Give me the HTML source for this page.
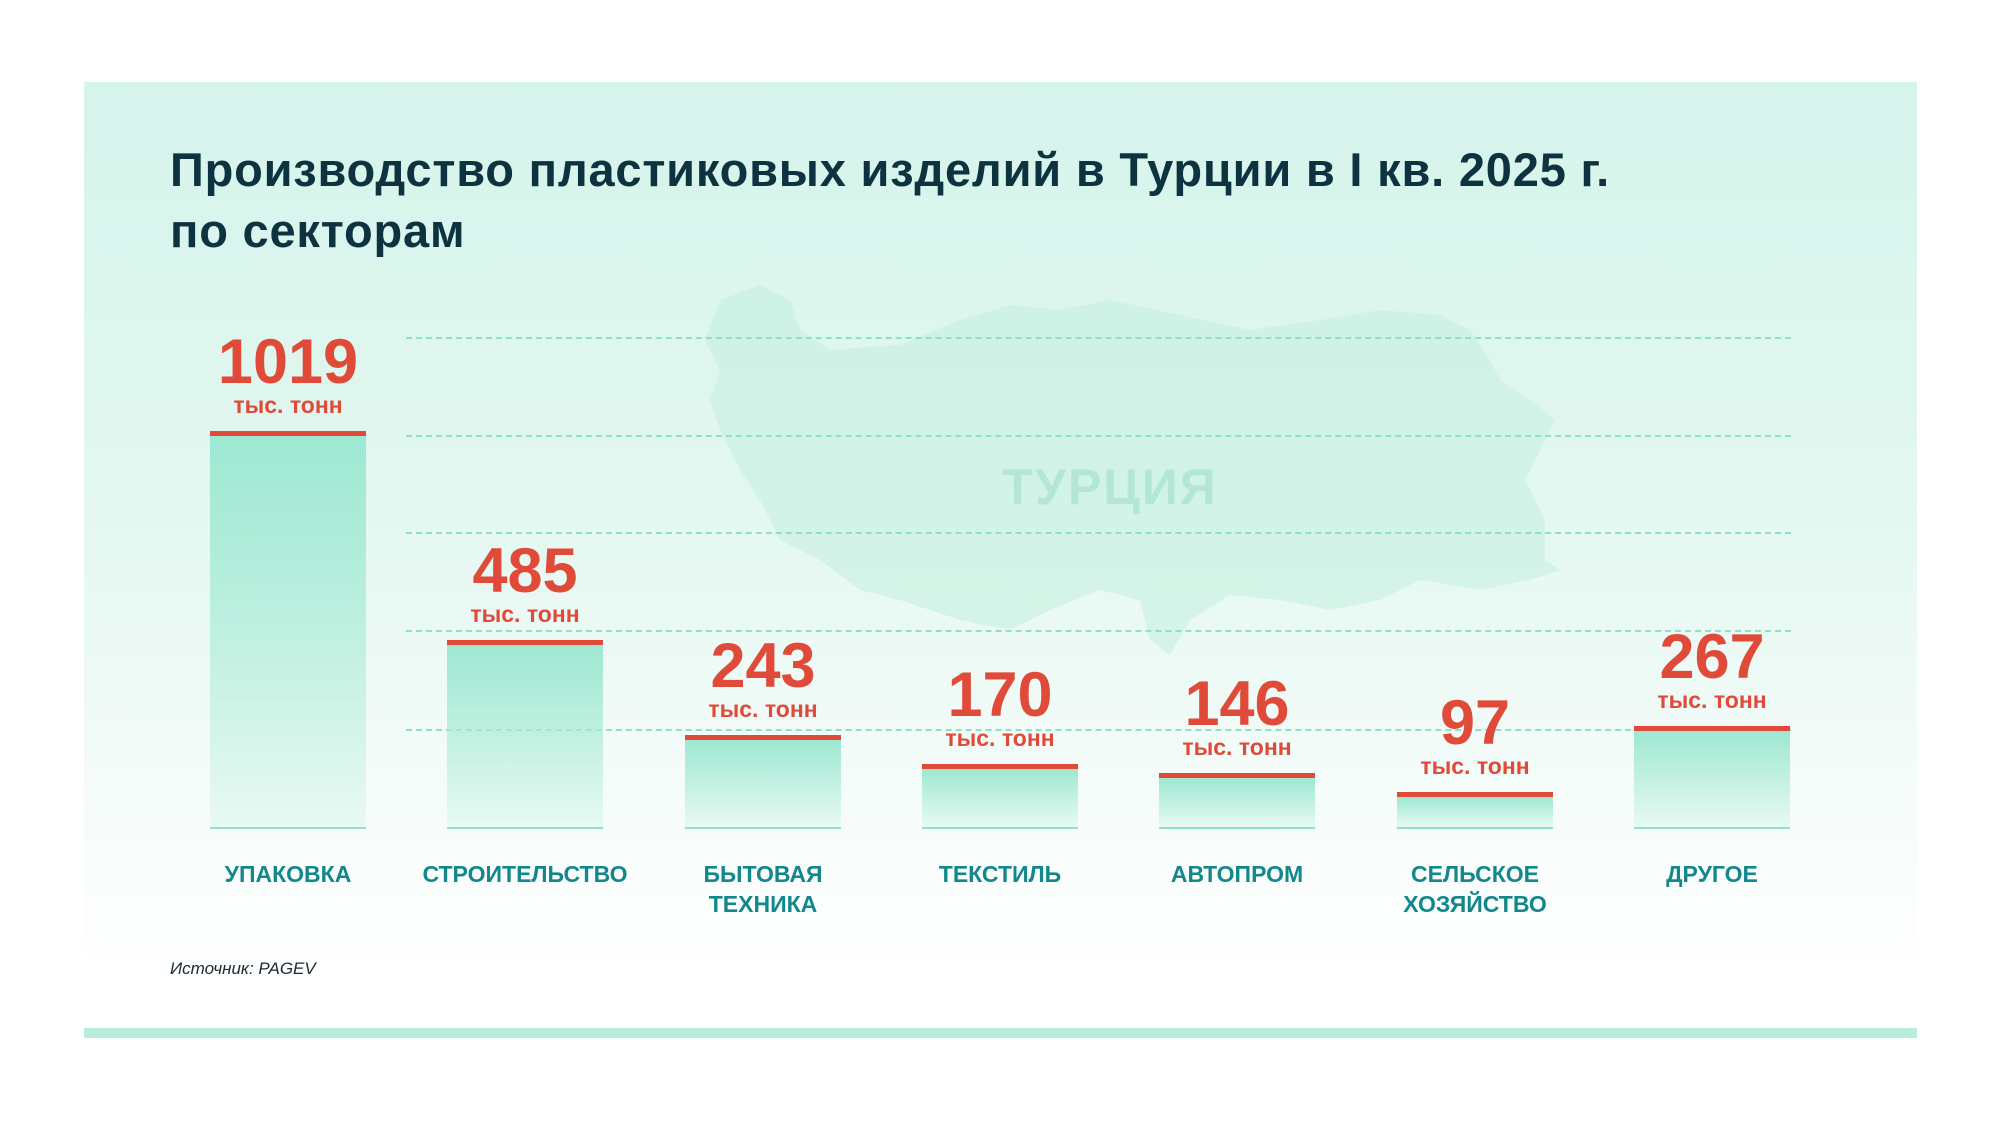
<!DOCTYPE html>
<html><head><meta charset="utf-8"><style>
*{margin:0;padding:0;box-sizing:border-box}
body{width:2000px;height:1125px;background:#fff;position:relative;overflow:hidden;font-family:"Liberation Sans","DejaVu Sans",sans-serif}
#panel{position:absolute;left:84px;top:82px;width:1833px;height:900px;background:linear-gradient(#d5f4eb 0%,#e2f7f0 45%,#f3fbf8 75%,#ffffff 100%)}
.t{position:absolute;left:170px;color:#0e3340;font-weight:bold;font-size:47px;white-space:nowrap;letter-spacing:0.8px}
.grid{position:absolute;left:406px;width:1385px;border-top:2px dashed #8fe0c6}
.bar{position:absolute;width:156px;background:linear-gradient(#9ee8d2,rgba(200,243,228,0.3));border-top:5px solid #e04a38}
.base{position:absolute;top:827px;width:156px;height:2px;background:#8fe0c6}
.num{position:absolute;width:156px;text-align:center;color:#e04a38;font-weight:bold;font-size:63px;line-height:1}
.unit{position:absolute;width:156px;text-align:center;color:#e04a38;font-weight:bold;font-size:23px;line-height:1}
.lab{position:absolute;width:240px;text-align:center;color:#13888c;font-weight:bold;font-size:23px;line-height:30px;top:859px}
#strip{position:absolute;left:84px;top:1028px;width:1833px;height:10px;background:#b8ecdc}
</style></head><body>
<div id="panel"></div>
<svg style="position:absolute;left:0;top:0" width="2000" height="1125">
<polygon fill="#c6f0e1" opacity="0.6" points="720,300 760,285 790,300 800,330 830,350 900,345 960,320 1010,305 1060,310 1110,300 1180,315 1250,330 1320,320 1380,310 1440,315 1470,330 1490,360 1500,380 1530,400 1555,420 1540,450 1525,480 1545,520 1545,560 1560,570 1530,580 1480,590 1420,580 1380,600 1330,610 1280,600 1230,595 1190,620 1170,655 1150,640 1140,600 1100,590 1050,610 1010,630 960,620 900,600 860,590 820,560 780,540 760,500 740,470 720,430 710,400 720,370 705,340"/>
</svg>
<div style="position:absolute;left:1000px;top:458px;width:220px;text-align:center;font-weight:bold;font-size:50px;color:#b4e6d6;letter-spacing:2px">ТУРЦИЯ</div>
<div class="t" style="top:142px">Производство пластиковых изделий в Турции в I кв. 2025 г.</div>
<div class="t" style="top:203px">по секторам</div>
<div class="grid" style="top:337px"></div>
<div class="grid" style="top:435px"></div>
<div class="grid" style="top:532px"></div>
<div class="grid" style="top:630px"></div>
<div class="grid" style="top:729px"></div>

<div class="bar" style="left:210px;top:431px;height:397px"></div>
<div class="bar" style="left:447px;top:640px;height:188px"></div>
<div class="bar" style="left:685px;top:735px;height:93px"></div>
<div class="bar" style="left:922px;top:764px;height:64px"></div>
<div class="bar" style="left:1159px;top:773px;height:55px"></div>
<div class="bar" style="left:1397px;top:792px;height:36px"></div>
<div class="bar" style="left:1634px;top:726px;height:102px"></div>
<div class="base" style="left:210px"></div><div class="base" style="left:447px"></div><div class="base" style="left:685px"></div><div class="base" style="left:922px"></div><div class="base" style="left:1159px"></div><div class="base" style="left:1397px"></div><div class="base" style="left:1634px"></div>

<div class="num" style="left:210px;top:331px">1019</div><div class="unit" style="left:210px;top:394px">тыс. тонн</div>
<div class="num" style="left:447px;top:540px">485</div><div class="unit" style="left:447px;top:603px">тыс. тонн</div>
<div class="num" style="left:685px;top:635px">243</div><div class="unit" style="left:685px;top:698px">тыс. тонн</div>
<div class="num" style="left:922px;top:664px">170</div><div class="unit" style="left:922px;top:727px">тыс. тонн</div>
<div class="num" style="left:1159px;top:673px">146</div><div class="unit" style="left:1159px;top:736px">тыс. тонн</div>
<div class="num" style="left:1397px;top:692px">97</div><div class="unit" style="left:1397px;top:755px">тыс. тонн</div>
<div class="num" style="left:1634px;top:626px">267</div><div class="unit" style="left:1634px;top:689px">тыс. тонн</div>

<div class="lab" style="left:168px">УПАКОВКА</div>
<div class="lab" style="left:405px">СТРОИТЕЛЬСТВО</div>
<div class="lab" style="left:643px">БЫТОВАЯ<br>ТЕХНИКА</div>
<div class="lab" style="left:880px">ТЕКСТИЛЬ</div>
<div class="lab" style="left:1117px">АВТОПРОМ</div>
<div class="lab" style="left:1355px">СЕЛЬСКОЕ<br>ХОЗЯЙСТВО</div>
<div class="lab" style="left:1592px">ДРУГОЕ</div>

<div style="position:absolute;left:170px;top:959px;font-style:italic;font-size:17px;color:#1a2a30">Источник: PAGEV</div>
<div id="strip"></div>
</body></html>
